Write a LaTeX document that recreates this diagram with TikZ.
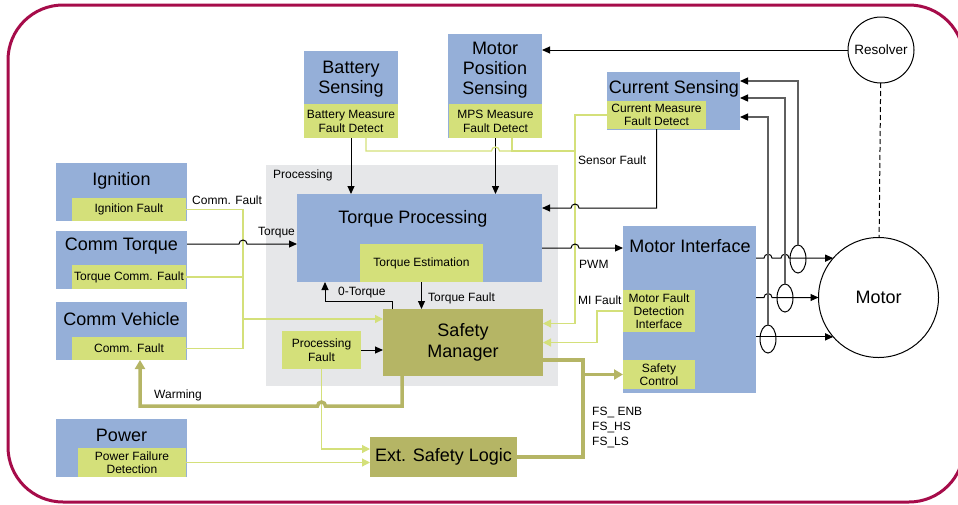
\documentclass[tikz,border=0pt]{standalone}
\usepackage{fontspec}
\setmainfont{Liberation Sans}
\usetikzlibrary{arrows.meta,calc,shapes.geometric}

\definecolor{mblue}{RGB}{149,175,216}
\definecolor{mgreen}{RGB}{212,224,122}
\definecolor{molive}{RGB}{181,181,101}
\definecolor{mgray}{RGB}{230,231,233}
\definecolor{mred}{RGB}{166,12,74}
\definecolor{wiregray}{RGB}{95,95,95}

\begin{document}
\begin{tikzpicture}[x=1pt, y=-1pt, font=\fontsize{12}{14}\selectfont,
    blk/.style={fill=mblue, inner sep=0pt, outer sep=0pt, anchor=north west},
    flt/.style={fill=mgreen, inner sep=0pt, outer sep=0pt, anchor=north west, align=center},
    mgr/.style={fill=molive, inner sep=0pt, outer sep=0pt, anchor=north west, align=center, font=\fontsize{18}{21}\selectfont},
    ttl/.style={inner sep=0pt, align=center, yshift=-1.5pt, font=\fontsize{18}{20}\selectfont},
    lbl/.style={inner sep=0pt, anchor=west},
    arr/.style={line width=1pt, -{Triangle[length=8pt,width=7pt]}},
    gline/.style={draw=mgreen, line width=1.2pt},
    garr/.style={gline, -{Triangle[length=8pt,width=8pt]}},
    oline/.style={draw=molive, line width=3.5pt},
    oarr/.style={oline, -{Triangle[length=9pt,width=10pt]}},
    cw/.style={draw=wiregray, line width=1.3pt, -{Triangle[length=8pt,width=7pt,color=black]}},
    ring/.style={draw, ellipse, line width=1pt, minimum width=16pt, minimum height=28pt, inner sep=0pt, outer sep=0pt},
    dsh/.style={line width=1pt, dash pattern=on 5pt off 3pt}]
\useasboundingbox (0,0) rectangle (958,504);
\clip (0,0) rectangle (958,504);
\draw[mred, line width=3pt, rounded corners=55pt] (8,5) rectangle (964,502);

% processing area
\node[fill=mgray, inner sep=0pt, anchor=north west, minimum width=292pt, minimum height=221pt] (proc) at (266,165) {};
\node[lbl] (proct) at (273,175) {Processing};

% inputs on the left
\node[blk, minimum width=131pt, minimum height=58pt] (ign) at (56,163) {};
\node[flt, minimum width=114pt, minimum height=23pt] (ignf) at (72,198) {Ignition Fault};
\node[ttl] (ignt) at (121.5,179) {Ignition};

\node[blk, minimum width=131pt, minimum height=58pt] (ctq) at (56,231) {};
\node[flt, minimum width=114pt, minimum height=24pt] (ctqf) at (72,265) {Torque Comm. Fault};
\node[ttl] (ctqt) at (121.5,245) {Comm Torque};

\node[blk, minimum width=131pt, minimum height=58pt] (cveh) at (56,302) {};
\node[flt, minimum width=114pt, minimum height=23pt] (cvehf) at (72,337) {Comm. Fault};
\node[ttl] (cveht) at (121.5,318) {Comm Vehicle};

\node[blk, minimum width=131pt, minimum height=58pt] (pwr) at (56,419) {};
\node[flt, minimum width=108pt, minimum height=29pt, font=\fontsize{12}{13.5}\selectfont] (pwrf) at (78,448) {Power Failure\\Detection};
\node[ttl] (pwrt) at (121.5,434) {Power};

% sensing on top
\node[blk, minimum width=94pt, minimum height=87pt] (bat) at (304,51) {};
\node[flt, minimum width=94pt, minimum height=34pt, font=\fontsize{12}{14}\selectfont] (batf) at (304,104) {Battery Measure\\Fault Detect};
\node[ttl] (batt) at (351,78) {Battery\\Sensing};

\node[blk, minimum width=94pt, minimum height=104pt] (mps) at (448,34) {};
\node[flt, minimum width=93pt, minimum height=34pt, font=\fontsize{12}{14}\selectfont] (mpsf) at (449,104) {MPS Measure\\Fault Detect};
\node[ttl] (mpst) at (495,69) {Motor\\Position\\Sensing};

\node[blk, minimum width=133pt, minimum height=58pt] (cur) at (607,72) {};
\node[flt, minimum width=99pt, minimum height=28pt, font=\fontsize{12}{13}\selectfont] (curf) at (607,101) {Current Measure\\Fault Detect};
\node[ttl] (curt) at (674,87) {Current Sensing};

% processing blocks
\node[blk, minimum width=245pt, minimum height=88pt] (tp) at (297,194) {};
\node[flt, minimum width=123pt, minimum height=38pt] (te) at (360,244) {Torque Estimation};
\node[ttl] (tpt) at (413,217) {Torque Processing};

\node[mgr, minimum width=160pt, minimum height=67pt] (sm) at (383,309) {Safety\\Manager};
\node[flt, minimum width=79pt, minimum height=38pt] (pf) at (282,331) {Processing\\Fault};

\node[mgr, minimum width=147pt, minimum height=40pt] (esl) at (370,437) {Ext. Safety Logic};

% motor side
\node[blk, minimum width=133pt, minimum height=167pt] (mi) at (623,226) {};
\node[flt, minimum width=72pt, minimum height=42pt, font=\fontsize{12}{13}\selectfont] (mfd) at (623,290) {Motor Fault\\Detection\\Interface};
\node[flt, minimum width=72pt, minimum height=29pt, font=\fontsize{12}{13}\selectfont] (sc) at (623,360) {Safety\\Control};
\node[ttl] (mit) at (690,245) {Motor Interface};

\node[draw, circle, line width=1pt, minimum size=120pt, inner sep=0pt, outer sep=0pt, font=\fontsize{18}{20}\selectfont] (mot) at (878.5,297.5) {Motor};
\node[draw, circle, line width=1pt, minimum size=66pt, inner sep=0pt, outer sep=0pt, font=\fontsize{13.5}{16}\selectfont] (res) at (881,50) {Resolver};
\node[ring] (ring1) at (798,259) {};
\node[ring] (ring2) at (785,298) {};
\node[ring] (ring3) at (768,339) {};

% comm faults
\coordinate (cbus) at (243,319);
\draw[gline] (ignf.east) -| (cbus);
\draw[gline] (cvehf.east) -| (cbus);
\draw[gline] (ctqf.east) -- (ctqf.east -| cbus);
\draw[garr] (cbus) -- (cbus -| sm.west);

% torque request
\coordinate (tq) at ([yshift=16pt]ctq.east);
\draw[arr] (tq) -- ($(tq -| cbus)+(-4,0)$) arc[start angle=180, end angle=0, radius=4pt] -- (tq -| tp.west);

% sensing
\draw[arr] (batf.south) -- (batf.south |- tp.north);
\draw[arr] (mpsf.south) -- (mpsf.south |- tp.north);
\draw[arr] (res.west) -- (res.west -| mps.east);
\draw[dsh] (res) -- (mot);

% sensor faults
\coordinate (sbus) at (575,151);
\draw[gline] ([xshift=15pt]batf.south) |- ($(mpsf.south |- sbus)+(-4,0)$) arc[start angle=180, end angle=0, radius=4pt] -- (sbus);
\draw[gline] ([xshift=16.5pt]mpsf.south) |- (sbus);
\coordinate (smr1) at ([yshift=19pt]sm.east);
\draw[garr] (curf.west) -| (smr1 -| sbus) -- (smr1);

% current feedback and PWM
\coordinate (tpr1) at ([yshift=30pt]tp.east);
\draw[arr] (curf.south) |- ($(tpr1 -| sbus)+(4,0)$) arc[start angle=0, end angle=180, radius=4pt] -- (tpr1);
\coordinate (tpr2) at ([yshift=-10pt]tp.east);
\draw[arr] (tpr2) -- ($(tpr2 -| sbus)+(-4,0)$) arc[start angle=180, end angle=0, radius=4pt] -- (tpr2 -| mi.west);

% MI fault
\draw[garr] (mfd.west) -- ++(-26,0) |- (sm.east);

% inside processing
\draw[arr] ([xshift=9pt]sm.north west) -- ++(0,-8) -| ([xshift=28pt]tp.south west);
\draw[arr] (te.south) -- (te.south |- sm.north);
\draw[arr] (pf.east) -- (pf.east -| sm.west);

% external safety logic
\draw[garr] (pf.south) |- ([yshift=8pt]esl.west);
\draw[garr] (pwrf.east) -- (pwrf.east -| esl.west);

% warning back to vehicle comm
\draw[oarr] ([xshift=19pt]sm.south west) |- ($(pf.south)+(4,37)$) arc[start angle=0, end angle=180, radius=4pt] -| ([xshift=11pt]cvehf.south);

% safety outputs
\coordinate (fs) at (583,360);
\draw[oline] (sm.east |- fs) -- (fs) |- (esl.east);
\draw[oarr] (sc.west -| fs) -- (sc.west);

% motor phases
\draw[arr] (mot.139 -| mi.east) -- ($(mot.139 -| ring3)+(-4,0)$) arc[start angle=180, end angle=0, radius=4pt]
    -- ($(mot.139 -| ring2)+(-4,0)$) arc[start angle=180, end angle=0, radius=4pt] -- (mot.139);
\draw[arr] (mot.west -| mi.east) -- ($(mot.west -| ring3)+(-4,0)$) arc[start angle=180, end angle=0, radius=4pt] -- (mot.west);
\draw[arr] (mot.221 -| mi.east) -- (mot.221);

% current sensors
\draw[cw] (ring1.north) |- ([yshift=20pt]cur.east);
\draw[cw] (ring2.north) |- ([yshift=3pt]cur.east);
\draw[cw] (ring3.north) |- ([yshift=-16pt]cur.east);

% labels
\node[lbl] (lcf) at (192,200) {Comm. Fault};
\node[lbl] (ltq) at (258,233) {Torque};
\node[lbl] (lsf) at (578,160) {Sensor Fault};
\node[lbl] (lpwm) at (579,264) {PWM};
\node[lbl] (lmif) at (578,300) {MI Fault};
\node[lbl] (l0t) at (338,293) {0-Torque};
\node[lbl] (ltf) at (428,298) {Torque Fault};
\node[lbl] (lwrn) at (154,395) {Warming};
\node[lbl, align=left, font=\fontsize{12}{15}\selectfont] (lfs) at (592,427) {FS\_ ENB\\FS\_HS\\FS\_LS};
\end{tikzpicture}
\end{document}
